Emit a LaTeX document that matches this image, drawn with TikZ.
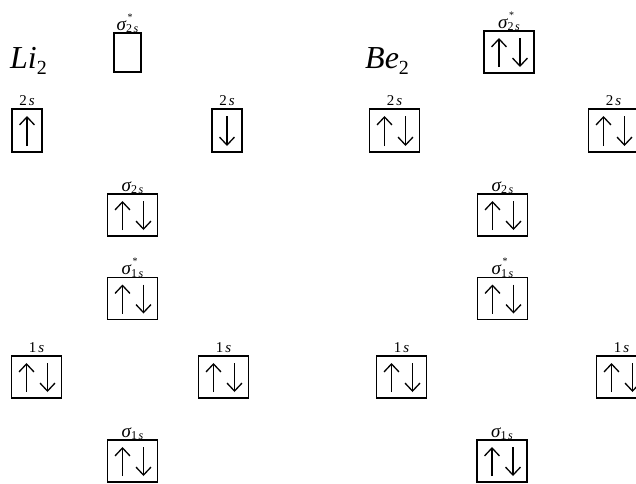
\documentclass[tikz,border=0pt]{standalone}
\usepackage{fontspec}
\setmainfont{Liberation Serif}
\usetikzlibrary{arrows.meta,calc}

\tikzset{
  level/.style={draw, line width=1.3pt, inner sep=0pt, outer sep=0pt,
                minimum width=50pt, minimum height=42pt},
  narrow/.style={level, minimum width=30pt, minimum height=43pt},
  spin/.style={line width=1.3pt,
               -{Straight Barb[length=8pt,width=15pt,line width=1.3pt]}},
  tag/.style={anchor=base, inner sep=0pt},
  molname/.style={anchor=base west, inner sep=0pt,
                  font=\fontsize{32}{32}\selectfont\itshape},
}

% electron arrows inside a level box (offset from the box centre)
\newcommand\upspin[2]{\draw[spin] ($(#1.south)+(#2,-6)$) -- ($(#1.north)+(#2,7)$);}
\newcommand\downspin[2]{\draw[spin] ($(#1.north)+(#2,7)$) -- ($(#1.south)+(#2,-6)$);}
\newcommand\paired[1]{\upspin{#1}{-10}\downspin{#1}{11}}

% atomic and molecular orbital labels
\newcommand\ao[1]{\fontsize{15}{15}\selectfont #1\kern2pt\textit{s}}
\newcommand\mosub[1]{\raisebox{-2.5pt}{\fontsize{12}{12}\selectfont #1\kern1.5pt\textit{s}}}
\newcommand\mo[1]{{\fontsize{19}{19}\selectfont\itshape σ}\mosub{#1}}
\newcommand\mostar[1]{{\fontsize{19}{19}\selectfont\itshape σ}\rlap{\kern1.5pt\raisebox{10pt}{\fontsize{10}{10}\selectfont *}}\mosub{#1}}

\begin{document}
\begin{tikzpicture}[x=1pt, y=-1pt]
  \useasboundingbox (0,0) rectangle (636,483);
  \clip (0,0) rectangle (636,483);

  % ---------- Li2 ----------
  \node[molname] (liname) at (10,68) {Li\raisebox{-6pt}{\fontsize{20}{20}\selectfont\upshape 2}};

  \node[level, minimum width=27pt, minimum height=39pt] (liAs2) at (127.5,52.5) {};
  \node[narrow] (li2sL) at (27,130.5) {};
  \node[narrow] (li2sR) at (227,130.5) {};
  \node[level] (liB2s) at (132.5,215) {};
  \node[level] (liA1s) at (132.5,298.5) {};
  \node[level] (li1sL) at (36.5,377) {};
  \node[level] (li1sR) at (223.5,377) {};
  \node[level] (liB1s) at (132.5,461) {};

  \node[tag] (tliAs2) at ($(liAs2.north)+(0,-3)$) {\mostar{2}};
  \node[tag] (tli2sL) at ($(li2sL.north)+(0,-4)$) {\ao{2}};
  \node[tag] (tli2sR) at ($(li2sR.north)+(0,-4)$) {\ao{2}};
  \node[tag] (tliB2s) at ($(liB2s.north)+(0,-3)$) {\mo{2}};
  \node[tag] (tliA1s) at ($(liA1s.north)+(0,-3)$) {\mostar{1}};
  \node[tag] (tli1sL) at ($(li1sL.north)+(0,-4)$) {\ao{1}};
  \node[tag] (tli1sR) at ($(li1sR.north)+(0,-4)$) {\ao{1}};
  \node[tag] (tliB1s) at ($(liB1s.north)+(0,-3)$) {\mo{1}};

  \upspin{li2sL}{0}
  \downspin{li2sR}{0}
  \paired{liB2s}
  \paired{liA1s}
  \paired{li1sL}
  \paired{li1sR}
  \paired{liB1s}

  % ---------- Be2 ----------
  \node[molname] (bename) at (365,68) {Be\raisebox{-6pt}{\fontsize{20}{20}\selectfont\upshape 2}};

  \node[level] (beAs2) at (509,52) {};
  \node[level, minimum height=43pt] (be2sL) at (394.5,130.5) {};
  \node[level, minimum height=43pt] (be2sR) at (613.5,130.5) {};
  \node[level] (beB2s) at (502.5,215) {};
  \node[level] (beA1s) at (502.5,298.5) {};
  \node[level] (be1sL) at (401.5,377) {};
  \node[level] (be1sR) at (621.5,377) {};
  \node[level] (beB1s) at (502,461) {};

  \node[tag] (tbeAs2) at ($(beAs2.north)+(0,-3)$) {\mostar{2}};
  \node[tag] (tbe2sL) at ($(be2sL.north)+(0,-4)$) {\ao{2}};
  \node[tag] (tbe2sR) at ($(be2sR.north)+(0,-4)$) {\ao{2}};
  \node[tag] (tbeB2s) at ($(beB2s.north)+(0,-3)$) {\mo{2}};
  \node[tag] (tbeA1s) at ($(beA1s.north)+(0,-3)$) {\mostar{1}};
  \node[tag] (tbe1sL) at ($(be1sL.north)+(0,-4)$) {\ao{1}};
  \node[tag] (tbe1sR) at ($(be1sR.north)+(0,-4)$) {\ao{1}};
  \node[tag] (tbeB1s) at ($(beB1s.north)+(0,-3)$) {\mo{1}};

  \paired{beAs2}
  \paired{be2sL}
  \paired{be2sR}
  \paired{beB2s}
  \paired{beA1s}
  \paired{be1sL}
  \paired{be1sR}
  \paired{beB1s}
\end{tikzpicture}
\end{document}
